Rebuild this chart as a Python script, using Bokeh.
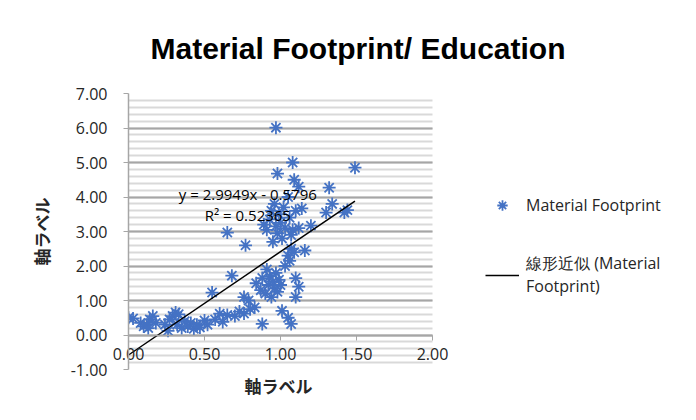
from bokeh.plotting import figure
from bokeh.models import (Legend, LegendItem, Label, SingleIntervalTicker, FixedTicker,
                          NumeralTickFormatter, ColumnDataSource, LinearAxis, BoxAnnotation,
                          Range1d, Title)
from bokeh.embed import file_html
from bokeh.resources import INLINE

# ---- data ----
edu_x = [0.00, 0.03, 0.08, 0.10, 0.12, 0.13, 0.14, 0.16, 0.18,
         0.24, 0.26, 0.27, 0.29, 0.31, 0.33, 0.32, 0.35, 0.37, 0.39, 0.41, 0.43, 0.45, 0.47, 0.50, 0.52,
         0.55, 0.57, 0.60, 0.62, 0.65, 0.68, 0.70, 0.73, 0.76, 0.76, 0.79, 0.80, 0.83, 0.84, 0.87,
         0.88, 0.88, 0.90, 0.91, 0.92, 0.93, 0.94, 0.95, 0.96, 0.97, 0.98, 0.99, 1.00, 1.01, 1.03,
         1.05, 1.07, 1.10, 1.10, 1.12, 1.05, 1.06, 1.07, 1.09, 1.16, 0.77, 0.65,
         0.89, 0.91, 0.93, 0.94, 0.96, 0.97, 0.98, 0.99, 1.00, 1.01, 1.02, 1.03, 1.05, 1.06, 1.07,
         1.08, 1.10, 1.12, 0.95,
         0.98, 0.97, 1.08, 1.09, 1.12, 1.14, 1.20, 1.32, 1.34, 1.30, 1.42, 1.44, 1.49]
footprint_y = [0.50, 0.48, 0.35, 0.25, 0.30, 0.20, 0.45, 0.55, 0.35,
               0.30, 0.12, 0.45, 0.55, 0.65, 0.60, 0.30, 0.20, 0.40, 0.25, 0.35, 0.18, 0.30, 0.22, 0.42, 0.30,
               1.23, 0.45, 0.62, 0.38, 0.58, 1.72, 0.55, 0.68, 0.62, 1.10, 1.00, 0.75, 0.80, 1.50, 1.30,
               0.32, 1.65, 1.20, 1.90, 1.45, 1.70, 1.10, 1.55, 1.35, 1.80, 1.25, 1.60, 1.45, 0.70, 2.00,
               0.50, 0.32, 1.10, 1.65, 1.40, 2.30, 2.15, 2.50, 2.40, 2.45, 2.60, 2.97,
               3.20, 3.05, 3.35, 3.60, 3.80, 3.15, 2.95, 3.50, 3.25, 2.80, 3.70, 3.10, 4.00, 3.40, 2.90,
               3.05, 3.60, 3.10, 2.70,
               4.68, 6.01, 5.00, 4.50, 4.30, 3.67, 3.17, 4.27, 3.80, 3.55, 3.55, 3.62, 4.85]

trend_slope = 2.9949
trend_intercept = -0.5796
trend_r2 = 0.52365

x_bounds = (0.0, 2.0)
x_ticks = [0.0, 0.5, 1.0, 1.5, 2.0]
y_ticks = [-1, 0, 1, 2, 3, 4, 5, 6, 7]

series_name = "Material Footprint"
trend_name = "線形近似 (Material\nFootprint)"
title_text = "Material Footprint/ Education"
axis_label_text = "軸ラベル"

# ---- figure ----
# plot area spans 0..2 over 304 px; the frame is widened to the right to hold the legend
FIG_W, LEFT, AREA_W = 680, 128, 304
x_end = x_bounds[1] * (FIG_W - LEFT) / AREA_W
p = figure(width=FIG_W, height=404, x_range=Range1d(0, x_end), y_range=Range1d(-1, 7),
           output_backend="svg", toolbar_location=None, x_axis_location=None,
           min_border_left=LEFT, min_border_right=0, min_border_top=93, min_border_bottom=35)
p.background_fill_color = "white"
p.border_fill_color = "white"
p.outline_line_color = None

blue = "#4472C4"
src = ColumnDataSource(dict(x=edu_x, y=footprint_y))
pts = p.scatter("x", "y", source=src, marker="asterisk", size=13, line_color=blue,
                line_width=1.8)

tx = [0.0, max(edu_x)]
ty = [trend_slope * v + trend_intercept for v in tx]
tl = p.line(tx, ty, line_color="black", line_width=1.5)

# grid
g = p.ygrid[0]
g.ticker = SingleIntervalTicker(interval=1, num_minor_ticks=5)
g.grid_line_color = "#a6a6a6"
g.grid_line_width = 2
g.minor_grid_line_color = "#d9d9d9"
g.minor_grid_line_width = 2
try:
    g.cross_bounds = x_bounds
except AttributeError:
    p.add_layout(BoxAnnotation(left=x_bounds[1], fill_color="white", fill_alpha=1,
                               line_color=None, level="underlay"))
p.xgrid.grid_line_color = None

tick_font = "Open Sans"
label_color = "#262626"
cjk_font = "Noto Sans CJK JP"
# y axis
ya = p.yaxis[0]
ya.ticker = FixedTicker(ticks=y_ticks)
ya.formatter = NumeralTickFormatter(format="0.00")
ya.axis_line_color = "#a6a6a6"
ya.axis_line_width = 1.5
ya.major_tick_line_color = "#a6a6a6"
ya.major_tick_out = 5
ya.major_tick_in = 0
ya.minor_tick_line_color = None
ya.major_label_text_font = tick_font
ya.major_label_text_font_size = "16px"
ya.major_label_text_color = label_color
ya.major_label_standoff = 16
ya.axis_label = axis_label_text
ya.axis_label_text_font = cjk_font
ya.axis_label_text_font_style = "bold"
ya.axis_label_text_font_size = "17px"
ya.axis_label_text_color = label_color
ya.axis_label_standoff = 14

# x axis: line and ticks crossing at y = 0
xa_line = LinearAxis(fixed_location=0, bounds=x_bounds, ticker=FixedTicker(ticks=x_ticks),
                     axis_line_color="#a6a6a6", axis_line_width=1.5,
                     major_tick_line_color="#a6a6a6", major_tick_out=5, major_tick_in=0,
                     minor_tick_line_color=None, major_label_text_color=None,
                     major_label_text_font_size="0px")
p.add_layout(xa_line, "below")

# x axis: labels just under the y = 0 line
xa = LinearAxis(bounds=x_bounds, ticker=FixedTicker(ticks=x_ticks),
                formatter=NumeralTickFormatter(format="0.00"),
                axis_line_color=None, major_tick_line_color=None, minor_tick_line_color=None,
                major_tick_out=0, major_tick_in=0,
                major_label_text_font=tick_font, major_label_text_font_size="16px",
                major_label_text_color=label_color, major_label_standoff=-22)
p.add_layout(xa, "below")

# x axis title, centred under the 0..2 plot area
p.add_layout(Title(text=axis_label_text, align="left", offset=116, standoff=2,
                   text_font=cjk_font, text_font_style="bold", text_font_size="17px",
                   text_color=label_color), "below")

# chart title
p.title.text = title_text
p.title.text_font = "Liberation Sans"
p.title.text_font_style = "bold"
p.title.text_font_size = "30px"
p.title.align = "left"
p.title.offset = 22
p.title.standoff = 57
p.title.text_color = "black"

# trendline equation
eq_font = "Open Sans"
p.add_layout(Label(x=0.785, y=4.10, text="y = %.4fx - %.4f" % (trend_slope, -trend_intercept),
                   text_align="center", text_baseline="middle", text_font=eq_font,
                   text_font_size="15px", text_color="black"))
p.add_layout(Label(x=0.785, y=3.49, text="R² = %.5f" % trend_r2,
                   text_align="center", text_baseline="middle", text_font=eq_font,
                   text_font_size="15px", text_color="black"))

legend = Legend(items=[LegendItem(label=series_name, renderers=[pts]),
                       LegendItem(label=trend_name, renderers=[tl])],
                location=(357, 72), border_line_color=None, background_fill_alpha=0,
                padding=0, margin=0, spacing=34, glyph_width=34, glyph_height=26,
                label_standoff=7,
                label_text_font="Open Sans", label_text_font_size="16px",
                label_text_line_height=1.6, label_text_color=label_color)
p.add_layout(legend, "center")

open("out.html", "w").write(file_html(p, INLINE))
